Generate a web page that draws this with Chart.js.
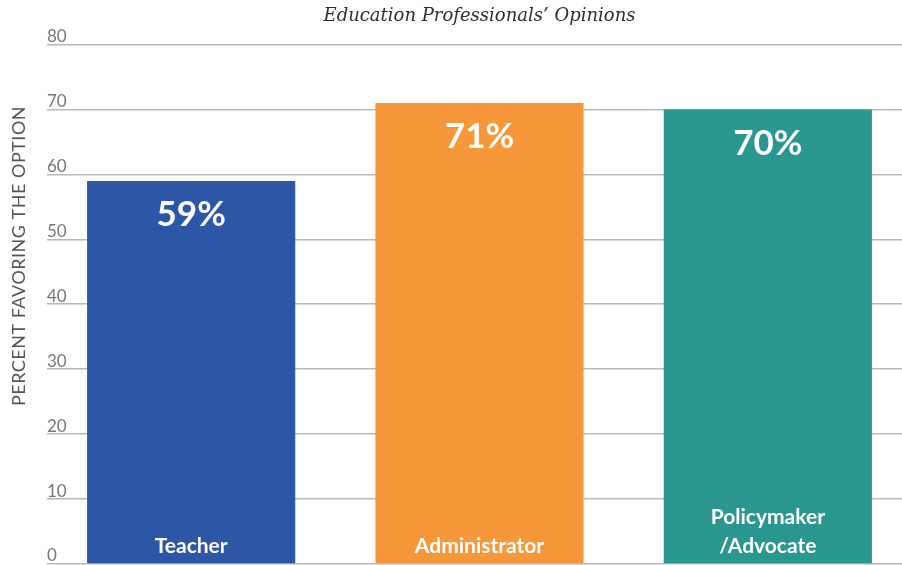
<!DOCTYPE html>
<html>
<head>
<meta charset="utf-8">
<script src="https://cdn.jsdelivr.net/npm/chart.js@4"></script>
<style>
  html, body { margin: 0; padding: 0; background: #fff; overflow: hidden; }
  #wrap { position: relative; width: 913px; height: 565px; }
</style>
</head>
<body>
<div id="wrap"><canvas id="c"></canvas></div>
<script>
const categories = [["Teacher"], ["Administrator"], ["Policymaker", "/Advocate"]];
const values = [59, 71, 70];
const barColors = ["#2c56a6", "#f6983a", "#2a9690"];
const yTicks = [0, 10, 20, 30, 40, 50, 60, 70, 80];
const chartTitle = "Education Professionals’ Opinions";
const yTitle = "PERCENT FAVORING THE OPTION";

const labelPlugin = {
  id: 'barLabels',
  afterDatasetsDraw(chart) {
    const ctx = chart.ctx;
    const meta = chart.getDatasetMeta(0);
    const area = chart.chartArea;
    ctx.save();
    ctx.fillStyle = '#ffffff';
    ctx.textAlign = 'center';
    meta.data.forEach((bar, i) => {
      ctx.font = 'bold 35px Lato';
      ctx.textBaseline = 'middle';
      ctx.fillText(values[i] + '%', bar.x, bar.y + 34);
      ctx.font = 'bold 21px Lato';
      ctx.textBaseline = 'alphabetic';
      const lines = categories[i];
      const lh = 29;
      lines.forEach((ln, j) => {
        const y = area.bottom - 11 - (lines.length - 1 - j) * lh;
        ctx.fillText(ln, bar.x, y);
      });
    });
    ctx.restore();
  },
  afterDraw(chart) {
    const ctx = chart.ctx;
    ctx.save();
    ctx.translate(19, 256);
    ctx.rotate(-Math.PI / 2);
    ctx.font = '18px Lato';
    try { ctx.letterSpacing = '0.5px'; } catch (e) {}
    ctx.fillStyle = '#555';
    ctx.textAlign = 'center';
    ctx.textBaseline = 'middle';
    ctx.fillText(yTitle, 0, 0);
    ctx.restore();
  }
};

new Chart(document.getElementById('c'), {
  type: 'bar',
  data: {
    labels: categories,
    datasets: [{
      data: values,
      backgroundColor: barColors,
      borderWidth: 0,
      barPercentage: 0.722,
      categoryPercentage: 1.0
    }]
  },
  options: {
    responsive: true,
    maintainAspectRatio: false,
    animation: false,
    layout: { padding: { left: 0, right: 1, top: 0, bottom: 1 } },
    plugins: {
      legend: { display: false },
      tooltip: { enabled: false },
      title: {
        display: true,
        text: chartTitle,
        fullSize: false,
        color: '#2e2e2e',
        font: { family: 'DejaVu Serif', style: 'italic', size: 18, weight: 'normal' },
        padding: { top: 6, bottom: 17 }
      }
    },
    scales: {
      x: { display: false },
      y: {
        min: 0,
        max: 80,
        afterBuildTicks(scale) { scale.ticks = yTicks.map(v => ({ value: v })); },
        afterFit(scale) { scale.width = 47; scale.paddingTop = 0; scale.paddingBottom = 0; },
        border: { display: false },
        grid: { color: '#b8b8b8', lineWidth: 1.6, drawTicks: false },
        ticks: {
          mirror: true,
          padding: 0,
          labelOffset: -8,
          color: '#777',
          font: { family: 'Lato', size: 17 }
        }
      }
    }
  },
  plugins: [labelPlugin]
});
</script>
</body>
</html>
